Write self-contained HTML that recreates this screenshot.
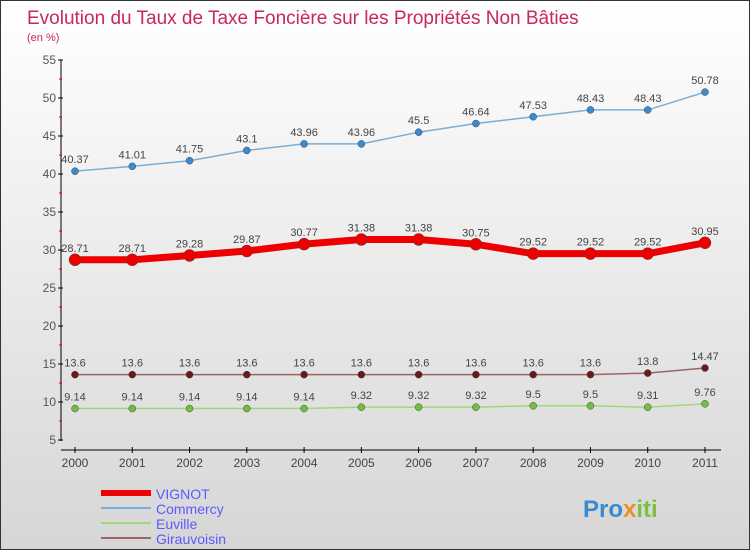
<!DOCTYPE html>
<html><head><meta charset="utf-8"><style>
body{margin:0}
#c{width:748px;height:548px;border:1px solid #333;background:linear-gradient(#fff,#d6d6d6);position:relative;overflow:hidden;font-family:"Liberation Sans",sans-serif}
</style></head><body>
<div id="c">
<svg id="s" width="748" height="548" xmlns="http://www.w3.org/2000/svg" font-family="Liberation Sans, sans-serif">
<text x="26" y="23" font-size="19" fill="#c8285a">Evolution du Taux de Taxe Foncière sur les Propriétés Non Bâties</text>
<text x="26" y="40" font-size="11" fill="#c8285a">(en %)</text>
<g id="axes"></g><g id="series"></g>
<g>
<line x1="100" y1="492" x2="150" y2="492" stroke="#e00" stroke-width="6"/>
<text x="155" y="498" font-size="14" fill="#5a5aff">VIGNOT</text>
<line x1="100" y1="507" x2="150" y2="507" stroke="#7aaed6" stroke-width="2"/>
<text x="155" y="513" font-size="14" fill="#5a5aff">Commercy</text>
<line x1="100" y1="522" x2="150" y2="522" stroke="#9fd87a" stroke-width="2"/>
<text x="155" y="528" font-size="14" fill="#5a5aff">Euville</text>
<line x1="100" y1="537" x2="150" y2="537" stroke="#9a6666" stroke-width="2"/>
<text x="155" y="543" font-size="14" fill="#5a5aff">Girauvoisin</text>
</g>
<text x="582" y="516" font-size="24" font-weight="bold" fill="#3a8ad0">Pro<tspan fill="#f09020">x</tspan><tspan fill="#80c040">iti</tspan></text>
</svg></div>
<script>
const years=[2000,2001,2002,2003,2004,2005,2006,2007,2008,2009,2010,2011];
const yTicks=[5,10,15,20,25,30,35,40,45,50,55];
const vignot=[28.71,28.71,29.28,29.87,30.77,31.38,31.38,30.75,29.52,29.52,29.52,30.95];
const commercy=[40.37,41.01,41.75,43.1,43.96,43.96,45.5,46.64,47.53,48.43,48.43,50.78];
const euville=[9.14,9.14,9.14,9.14,9.14,9.32,9.32,9.32,9.5,9.5,9.31,9.76];
const girauvoisin=[13.6,13.6,13.6,13.6,13.6,13.6,13.6,13.6,13.6,13.6,13.8,14.47];
const NS="http://www.w3.org/2000/svg";
const X=i=>74+i*(630/11);
const Y=v=>59+(55-v)*7.6;
function mk(t,a,p){const e=document.createElementNS(NS,t);for(const k in a)e.setAttribute(k,a[k]);p.appendChild(e);return e;}
const ax=document.getElementById('axes'),sr=document.getElementById('series');
let l=mk('line',{x1:60,y1:59,x2:60,y2:440,stroke:'#000'},ax);


l=mk('line',{x1:60,y1:449,x2:720,y2:449,stroke:'#000'},ax);


yTicks.forEach((v,i)=>{
 mk('line',{x1:57,y1:Y(v),x2:62,y2:Y(v),stroke:'#000'},ax);
 if(i<yTicks.length-1)mk('line',{x1:58,y1:Y(v+2.5),x2:61,y2:Y(v+2.5),stroke:'#d00'},ax);
 const t=mk('text',{x:55,y:Y(v)+4,'font-size':12,fill:'#555','text-anchor':'end'},ax);t.textContent=v;
 
 
});
years.forEach((y,i)=>{
 mk('line',{x1:X(i),y1:446,x2:X(i),y2:452,stroke:'#000'},ax);
 const t=mk('text',{x:X(i),y:466,'font-size':12,fill:'#444','text-anchor':'middle'},ax);t.textContent=y;
 
 
});
function draw(vals,name,col,dot,w,r){
 const g=mk('g',{},sr);
 
 
 const p=mk('polyline',{points:vals.map((v,i)=>X(i)+','+Y(v)).join(' '),fill:'none',stroke:col,'stroke-width':w,'stroke-linejoin':'round'},g);
 
 
 vals.forEach((v,i)=>{
  const c=mk('circle',{cx:X(i),cy:Y(v),r:r,fill:dot,stroke:'#444','stroke-width':0.5},g);
  
  
  const t=mk('text',{x:X(i),y:Y(v)-8,'font-size':11,fill:'#444','text-anchor':'middle'},g);t.textContent=v;
  
  
 });
}
draw(commercy,'commercy','#7aaed6','#3a8ad0',1.5,3.5);
draw(vignot,'vignot','#e00','#e00',7,6);
draw(girauvoisin,'girauvoisin','#9a6666','#6a1a1a',1.5,3.5);
draw(euville,'euville','#9fd87a','#70c040',1.5,3.5);
</script>
</body></html>
